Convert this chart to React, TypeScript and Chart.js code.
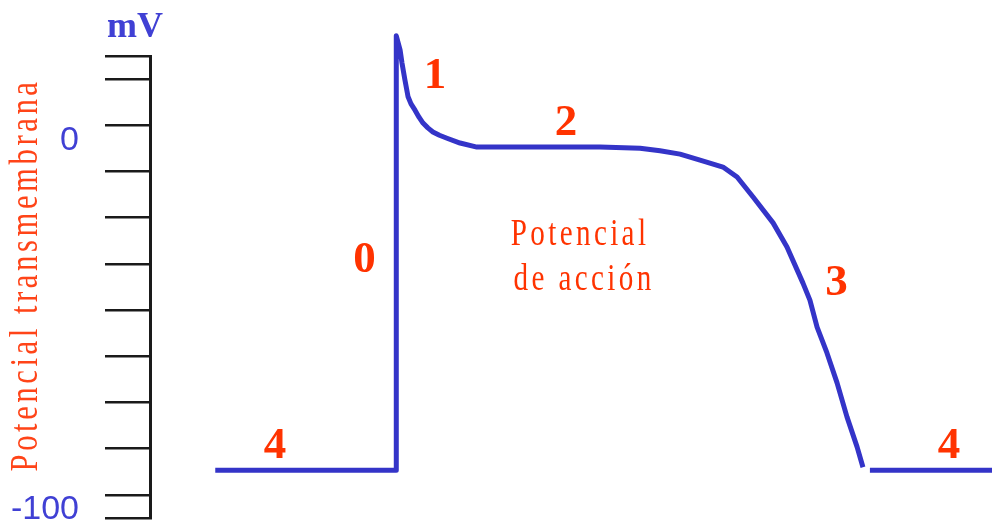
import React, { useEffect, useRef } from 'react';
import { Chart, registerables } from 'chart.js';

Chart.register(...registerables);

// Action potential trace: time (ms) and transmembrane potential (mV)
const timeMs = [31, 117, 117, 118.8, 119.7, 121.1, 122.6, 124.0, 125.9, 127.8, 129.7, 132.0, 134.4, 137.5, 141.1, 147.3, 155.3, 185.3, 213.8, 232.8, 242.3, 251.8, 261.3, 272.2, 278.9, 286.5, 296.0, 302.6, 310.2, 313.5, 316.9, 321.6, 326.4, 331.1, 335.9, 338.7, 340.3, 342.0, 400];
const potentialMv = [-93.3, -93.3, 24.2, 20.4, 16.9, 12.3, 7.7, 5.8, 4.1, 2.2, 0.6, -0.7, -1.8, -2.7, -3.5, -4.8, -5.9, -5.9, -5.9, -6.2, -6.9, -7.8, -9.4, -11.3, -14.0, -19.4, -26.4, -32.9, -42.7, -47.3, -54.6, -61.6, -69.7, -78.9, -87.0, -92.5, null, -93.3, -93.3];

// Y axis ticks
const yTickValues = [18.75, 12.5, 0, -12.5, -25, -37.5, -50, -62.5, -75, -87.5, -100, -106.25];
const yTickLabels = ['', '', '0', '', '', '', '', '', '', '', '-100', ''];

// Phase labels
const phaseNames = ['0', '1', '2', '3', '4', '4'];
const phaseTimes = [101.9, 135.4, 197.6, 326.1, 59.4, 379.6];
const phaseMv = [-35.9, 13.9, 1.2, -42.1, -86.2, -86.0];

// Caption
const captionLines = ['Potencial', 'de acción'];
const captionTimes = [204.3, 206.2];
const captionMv = [-32.4, -44.6];

const yAxisTitle = 'Potencial transmembrana';
const unitLabel = 'mV';

const BLUE = '#3434c8';
const LABEL_BLUE = '#4040d4';
const RED = '#ff3300';
const TITLE_RED = '#ff4418';

const annotationPlugin = {
  id: 'apAnnotations',
  afterDraw(chart: any) {
    const { ctx } = chart;
    const x = chart.scales.x;
    const y = chart.scales.y;
    ctx.save();

    // phase numbers
    ctx.font = 'bold 45px "Liberation Serif"';
    ctx.fillStyle = RED;
    ctx.textAlign = 'center';
    ctx.textBaseline = 'alphabetic';
    phaseNames.forEach((t, i) => {
      const m = ctx.measureText(t);
      const px = x.getPixelForValue(phaseTimes[i]);
      const py = y.getPixelForValue(phaseMv[i]);
      ctx.fillText(t, px, py + (m.actualBoundingBoxAscent - m.actualBoundingBoxDescent) / 2);
    });

    // caption
    ctx.font = '26px "Liberation Serif"';
    (ctx as any).letterSpacing = '3px';
    const mw = ctx.measureText(captionLines[0]);
    const w0 = mw.actualBoundingBoxLeft + mw.actualBoundingBoxRight;
    const cap = ctx.measureText('P').actualBoundingBoxAscent;
    const sx = 135 / w0;
    const sy = 25 / cap;
    captionLines.forEach((t, i) => {
      ctx.save();
      ctx.translate(x.getPixelForValue(captionTimes[i]), y.getPixelForValue(captionMv[i]));
      ctx.scale(sx, sy);
      ctx.fillText(t, 0, 0);
      ctx.restore();
    });

    // vertical axis title
    ctx.fillStyle = TITLE_RED;
    const mt = ctx.measureText(yAxisTitle);
    const wt = mt.actualBoundingBoxLeft + mt.actualBoundingBoxRight;
    ctx.save();
    ctx.translate(37, 275);
    ctx.rotate(-Math.PI / 2);
    ctx.scale(390 / wt, 26 / cap);
    ctx.fillText(yAxisTitle, 0, 0);
    ctx.restore();
    (ctx as any).letterSpacing = '0px';

    // unit label
    ctx.font = 'bold 36px "Liberation Serif"';
    ctx.fillStyle = LABEL_BLUE;
    ctx.fillText(unitLabel, 135, 37);

    ctx.restore();
  },
};

export default function App() {
  const ref = useRef<HTMLCanvasElement | null>(null);

  useEffect(() => {
    if (!ref.current) return;
    const points = timeMs.map((t, i) => ({ x: t, y: potentialMv[i] }));
    const chart = new Chart(ref.current, {
      type: 'line',
      data: {
        datasets: [
          {
            data: points as any,
            borderColor: BLUE,
            borderWidth: 5,
            borderJoinStyle: 'round',
            pointRadius: 0,
            fill: false,
            tension: 0,
            spanGaps: false,
            clip: false as any,
          },
        ],
      },
      options: {
        animation: false,
        responsive: false,
        layout: { padding: { top: 56, bottom: 7, left: 0, right: 0 } },
        plugins: {
          legend: { display: false },
          tooltip: { enabled: false },
        },
        scales: {
          x: {
            type: 'linear',
            min: 0,
            max: 400,
            display: false,
          },
          y: {
            type: 'linear',
            min: -106.25,
            max: 18.75,
            afterFit(scale: any) {
              scale.width = 150;
              scale.paddingTop = 0;
              scale.paddingBottom = 0;
            },
            afterBuildTicks(scale: any) {
              scale.ticks = yTickValues.map((v) => ({ value: v }));
            },
            border: { display: true, color: '#1a1a1a', width: 3 },
            grid: {
              drawOnChartArea: false,
              drawTicks: true,
              tickLength: 45,
              color: '#1a1a1a',
              lineWidth: 2.5,
            },
            ticks: {
              autoSkip: false,
              padding: 26,
              labelOffset: 15,
              color: LABEL_BLUE,
              font: { family: '"Liberation Sans"', size: 34 },
              callback: (_v: any, i: number) => yTickLabels[i] ?? '',
            },
          },
        },
      },
      plugins: [annotationPlugin],
    });
    return () => chart.destroy();
  }, []);

  return (
    <div style={{ position: 'fixed', left: 0, top: 0, width: 992, height: 525, background: '#fff' }}>
      <canvas ref={ref} width={992} height={525} style={{ display: 'block' }} />
    </div>
  );
}
